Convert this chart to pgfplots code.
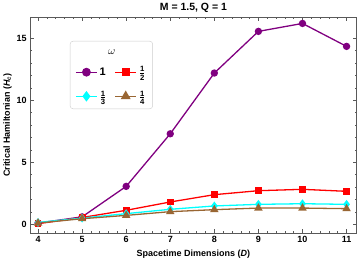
\documentclass[border=0pt]{standalone}
\usepackage{pgfplots}
\pgfplotsset{compat=1.18}
\usepackage{fontspec}
\setmainfont{Liberation Sans}
\definecolor{mpurple}{RGB}{128,0,128}
\definecolor{mbrown}{RGB}{153,102,51}
\definecolor{mcyan}{RGB}{0,255,255}
\begin{document}
\begin{tikzpicture}
\begin{axis}[
  scale only axis,
  width=327pt, height=216pt,
  xmin=3.82, xmax=11.23,
  ymin=-0.7, ymax=16.7,
  xtick={4,5,6,7,8,9,10,11},
  ytick={0,5,10,15},
  minor x tick num=4,
  minor y tick num=4,
  tick align=inside,
  major tick length=4pt,
  minor tick length=2pt,
  axis line style={gray!70!black, line width=0.6pt},
  every tick/.style={gray!70!black, line width=0.5pt},
  tick label style={font=\fontsize{9}{10}\selectfont\bfseries},
  /pgf/number format/assume math mode=true,
  title={\fontsize{10.5}{11}\selectfont\bfseries M = 1.5, Q = 1},
  title style={yshift=-5pt},
  xlabel={\fontsize{9}{10}\selectfont\bfseries Spacetime Dimensions (\textit{D})},
  ylabel={\fontsize{9}{10}\selectfont\bfseries Critical Hamiltonian (\textit{H}\textsubscript{\textit{c}})},
  xlabel style={yshift=0pt},
  ylabel style={yshift=-2pt},
  legend columns=2,
  legend style={at={(rel axis cs:0.122,0.89)}, anchor=north west,
    draw=gray!40, rounded corners=3pt, fill=white,
    font=\fontsize{11}{12}\selectfont\bfseries,
    row sep=9pt, inner sep=5pt,
    /tikz/every even column/.append style={column sep=6pt}},
  legend image post style={scale=1.25},
  legend cell align=left,
]
\addlegendimage{empty legend}\addlegendentry{\rule{0pt}{4pt}}
\addlegendimage{empty legend}\addlegendentry{}
\addplot[mpurple, line width=1.3pt, mark=*, mark size=3pt] coordinates {
(4,0.1) (5,0.6) (6,3.06) (7,7.3) (8,12.2) (9,15.56) (10,16.2) (11,14.35)};
\addlegendentry{1}
\addplot[red, line width=1.3pt, mark=square*, mark size=2.8pt] coordinates {
(4,0.05) (5,0.55) (6,1.13) (7,1.8) (8,2.39) (9,2.71) (10,2.82) (11,2.66)};
\addlegendentry{$\mathbf{\frac{1}{2}}$}
\addplot[mcyan, line width=1.3pt, mark=diamond*, mark size=3.4pt] coordinates {
(4,0.15) (5,0.5) (6,0.86) (7,1.21) (8,1.48) (9,1.61) (10,1.66) (11,1.61)};
\addlegendentry{$\mathbf{\frac{1}{3}}$}
\addplot[mbrown, line width=1.3pt, mark=triangle*, mark size=3.6pt] coordinates {
(4,0.1) (5,0.45) (6,0.72) (7,1.02) (8,1.18) (9,1.31) (10,1.31) (11,1.26)};
\addlegendentry{$\mathbf{\frac{1}{4}}$}
\coordinate (om) at (rel axis cs:0.25,0.84);
\end{axis}
\node[font=\fontsize{11}{12}\selectfont] at (om) {$\omega$};
\end{tikzpicture}
\end{document}
